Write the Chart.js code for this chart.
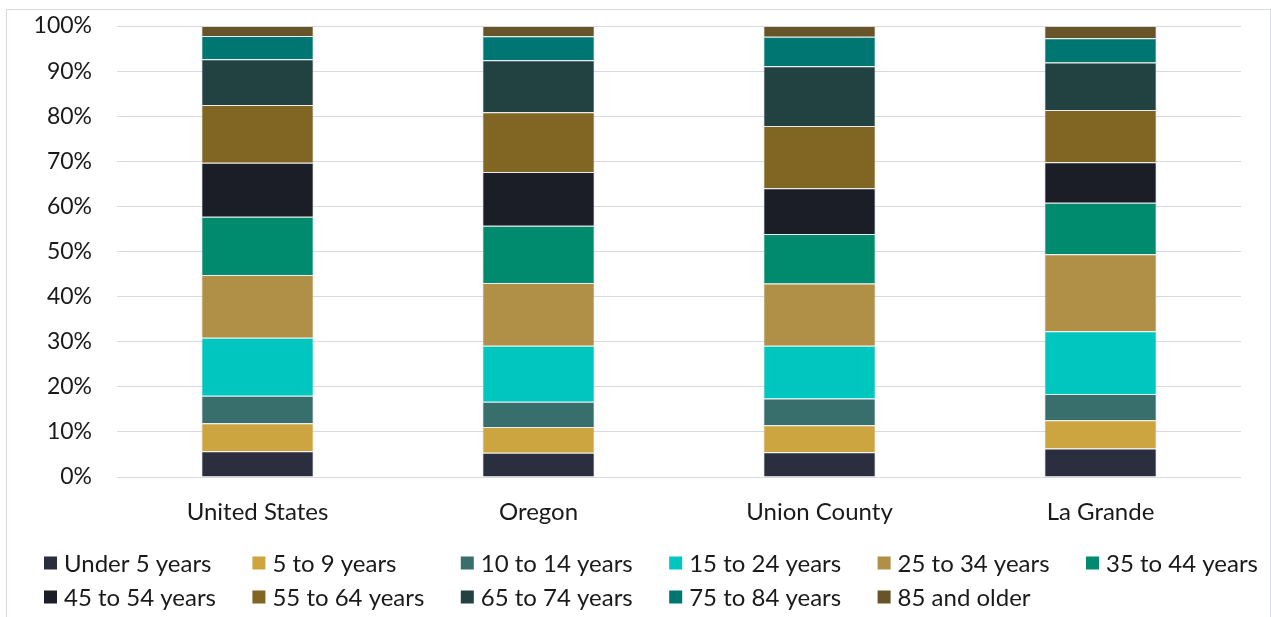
<!DOCTYPE html>
<html>
<head>
<meta charset="utf-8">
<script src="https://cdn.jsdelivr.net/npm/chart.js@4/dist/chart.umd.min.js"></script>
<style>
    html, body { margin: 0; padding: 0; background: #fff; overflow: hidden; }
    #wrap { position: relative; width: 1271px; height: 617px; }
    #frame {
        position: absolute; left: 6px; top: 9px; width: 1263px; height: 700px;
        border: 1px solid #d9d9e4; border-bottom: none; pointer-events: none;
    }
</style>
</head>
<body>
<div id="wrap">
    <canvas id="myChart" width="1271" height="617"></canvas>
    <div id="frame"></div>
</div>
<script>
// Places on the x axis
const places = ['United States', 'Oregon', 'Union County', 'La Grande'];

// Share of population by age group (%), one value per place
const under5   = [5.7, 5.4, 5.5, 6.3];
const age5to9  = [6.2, 5.7, 6.0, 6.3];
const age10to14 = [6.1, 5.6, 5.9, 5.8];
const age15to24 = [12.9, 12.4, 11.7, 13.9];
const age25to34 = [13.9, 13.9, 13.8, 17.1];
const age35to44 = [12.9, 12.7, 11.0, 11.4];
const age45to54 = [12.0, 11.9, 10.1, 9.0];
const age55to64 = [12.8, 13.3, 13.8, 11.6];
const age65to74 = [10.1, 11.5, 13.3, 10.5];
const age75to84 = [5.2, 5.3, 6.5, 5.4];
const age85plus = [2.2, 2.3, 2.4, 2.7];

// y axis ticks
const yTicks = [0, 10, 20, 30, 40, 50, 60, 70, 80, 90, 100];

const groups = [
    { label: 'Under 5 years',  data: under5,    color: '#2b2e3f' },
    { label: '5 to 9 years',   data: age5to9,   color: '#cda540' },
    { label: '10 to 14 years', data: age10to14, color: '#386e6c' },
    { label: '15 to 24 years', data: age15to24, color: '#00c6c0' },
    { label: '25 to 34 years', data: age25to34, color: '#b08f47' },
    { label: '35 to 44 years', data: age35to44, color: '#008b6e' },
    { label: '45 to 54 years', data: age45to54, color: '#1b1e27' },
    { label: '55 to 64 years', data: age55to64, color: '#806523' },
    { label: '65 to 74 years', data: age65to74, color: '#224241' },
    { label: '75 to 84 years', data: age75to84, color: '#007672' },
    { label: '85 and older',   data: age85plus, color: '#675428' }
];

const FONT = 'Lato';

// Legend drawn in fixed columns, like the spreadsheet legend
const gridLegend = {
    id: 'gridLegend',
    afterDraw(chart) {
        const ctx = chart.ctx;
        ctx.save();
        ctx.font = '24px ' + FONT;
        ctx.textBaseline = 'middle';
        ctx.textAlign = 'left';
        chart.data.datasets.forEach((ds, i) => {
            const col = i % 6;
            const row = Math.floor(i / 6);
            const x = 44 + col * 208.4;
            const y = 563 + row * 34;
            ctx.fillStyle = ds.backgroundColor;
            ctx.fillRect(x, y - 6.5, 13, 13);
            ctx.fillStyle = '#1a1a1a';
            ctx.fillText(ds.label, x + 20, y + 1);
        });
        ctx.restore();
    }
};

const ctx = document.getElementById('myChart');
const myChart = new Chart(ctx, {
    type: 'bar',
    data: {
        labels: places,
        datasets: groups.map(g => ({
            label: g.label,
            data: g.data,
            backgroundColor: g.color,
            borderColor: 'rgba(200,200,212,0.35)',
            borderWidth: 1,
            categoryPercentage: 1,
            barPercentage: 0.4
        }))
    },
    options: {
        responsive: false,
        animation: false,
        layout: {
            padding: { left: 0, right: 30, top: 26, bottom: 0 }
        },
        scales: {
            x: {
                stacked: true,
                border: { display: false },
                grid: { display: false, drawTicks: false },
                ticks: {
                    padding: 21,
                    color: '#1a1a1a',
                    font: { family: FONT, size: 24 }
                },
                afterFit(scale) { scale.height = 140; }
            },
            y: {
                stacked: true,
                min: 0,
                max: 100,
                border: { display: false },
                grid: { color: '#d9d9e4', lineWidth: 1, drawTicks: false },
                afterBuildTicks(scale) { scale.ticks = yTicks.map(v => ({ value: v })); },
                ticks: {
                    padding: 25,
                    color: '#1a1a1a',
                    font: { family: FONT, size: 23 },
                    callback: v => v + '%'
                },
                afterFit(scale) {
                    // fixed axis width; don't let tick padding push the plot down
                    scale.width = 117;
                    scale.paddingTop = 0;
                    scale.paddingBottom = 0;
                }
            }
        },
        plugins: {
            legend: { display: false },
            tooltip: { enabled: false }
        }
    },
    plugins: [gridLegend]
});
</script>
</body>
</html>
